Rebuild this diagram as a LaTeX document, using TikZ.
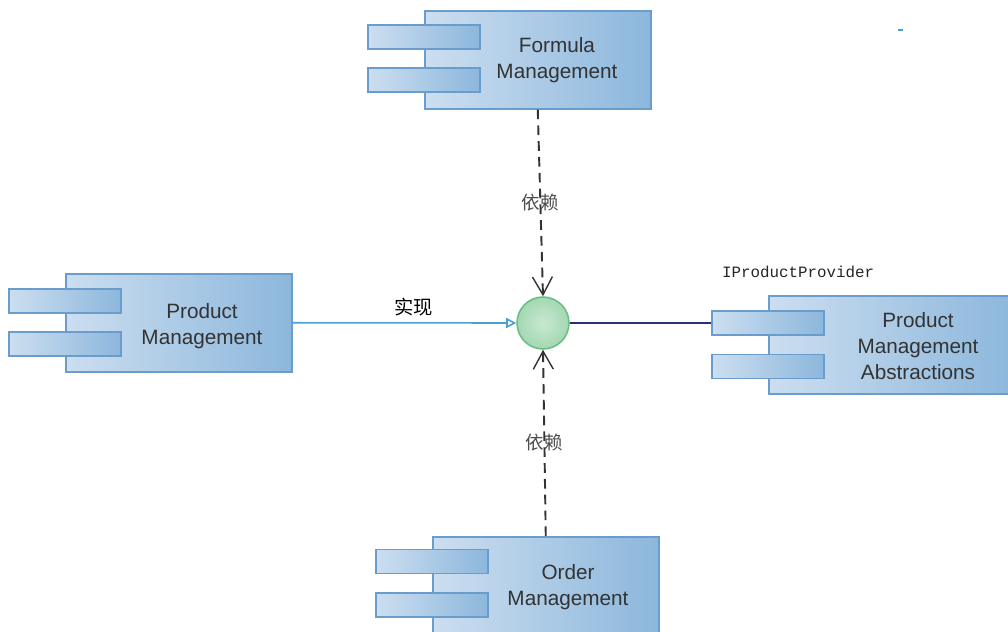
\documentclass[tikz,border=0pt]{standalone}
\usepackage{fontspec}
\setmainfont{Liberation Sans}
\setmonofont{Liberation Mono}
\newfontfamily\cjk{Noto Sans CJK SC}
\usetikzlibrary{arrows.meta}

\definecolor{boxleft}{HTML}{CCDEF0}
\definecolor{boxright}{HTML}{8CB7DC}
\definecolor{boxline}{HTML}{6A9DCC}
\definecolor{boxtext}{HTML}{333333}
\definecolor{ifacefill}{HTML}{A3D8B2}
\definecolor{ifaceline}{HTML}{6BBF86}
\definecolor{realline}{HTML}{4A9ED6}
\definecolor{navyline}{HTML}{27307A}

\tikzset{
  comp/.style={draw=boxline, line width=0.9pt, left color=boxleft, right color=boxright,
               minimum width=4.52cm, minimum height=1.96cm, anchor=north west, inner sep=0pt},
  port/.style={draw=boxline, line width=0.9pt, left color=boxleft, right color=boxright,
               minimum width=2.24cm, minimum height=0.48cm, inner sep=0pt},
  comptext/.style={text=boxtext, align=center, font=\fontsize{11.8}{14.7}\selectfont},
  dep/.style={draw=black!80, dash pattern=on 5.5pt off 3.5pt, line width=1.1pt,
              -{Straight Barb[length=0.36cm,width=0.4cm,line width=0.8pt]}},
  deplabel/.style={text=black!70, font=\cjk\fontsize{10.5}{12}\selectfont}
}

\begin{document}
\begin{tikzpicture}[x=0.02cm, y=-0.02cm]
\useasboundingbox (0,0) rectangle (1008,632);

% 组件
\node[comp] (formula) at (424,10) {};
\node[comp] (prodmgmt) at (65,273) {};
\node[comp, minimum width=4.9cm] (abstractions) at (768,295) {};
\node[comp, minimum height=2.2cm] (order) at (432,536) {};

\node[port] (formulaA) at ([yshift=-0.54cm]formula.north west) {};
\node[port] (formulaB) at ([yshift=-1.4cm]formula.north west) {};
\node[port] (prodmgmtA) at ([yshift=-0.56cm]prodmgmt.north west) {};
\node[port] (prodmgmtB) at ([yshift=-1.42cm]prodmgmt.north west) {};
\node[port] (abstractionsA) at ([yshift=-0.56cm]abstractions.north west) {};
\node[port] (abstractionsB) at ([yshift=-1.43cm]abstractions.north west) {};
\node[port] (orderA) at ([yshift=-0.51cm]order.north west) {};
\node[port] (orderB) at ([yshift=-1.38cm]order.north west) {};

\node[comptext] at (557,60) {Formula\\Management};
\node[comptext] at (202,326) {Product\\Management};
\node[comptext] at (918,346) {Product\\Management\\Abstractions};
\node[comptext] at (568,587) {Order\\Management};

% 接口
\node[circle, draw=ifaceline, line width=0.9pt, inner color=ifacefill!60, outer color=ifacefill,
      minimum size=1.04cm, inner sep=0pt] (iface) at (543,323) {};

% 连线
\draw[dep] (formula.south) -- node[deplabel] {依赖} (iface.north);
\draw[dep] (order.north) -- node[deplabel] {依赖} (iface.south);
\draw[realline, line width=0.9pt, -{Triangle[open,length=0.2cm,width=0.2cm]}]
      (prodmgmt.east) -- node[above, xshift=0.18cm, text=black, font=\cjk\fontsize{11}{13}\selectfont] {实现} (iface.west);
\draw[navyline, line width=1pt] (iface.east) -- (abstractionsA.west);

\node[anchor=west, font=\ttfamily\fontsize{9}{11}\selectfont, text=black!85] (provider) at (716,272) {IProductProvider};

\draw[realline, line width=1pt] (898,30) -- (903,30);
\end{tikzpicture}
\end{document}
